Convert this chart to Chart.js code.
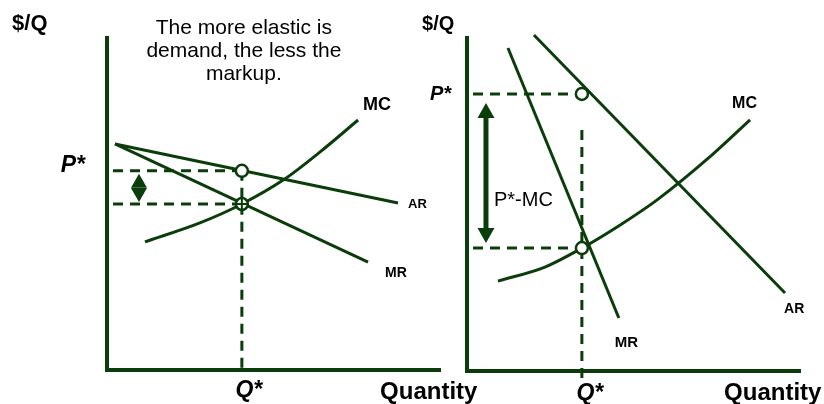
<!DOCTYPE html>
<html>
<head>
<meta charset="utf-8">
<script src="https://cdn.jsdelivr.net/npm/chart.js@4.4.1/dist/chart.umd.min.js"></script>
<style>
  html, body { margin: 0; padding: 0; background: #fff; }
  #wrap { position: relative; width: 824px; height: 404px; }
  canvas { position: absolute; left: 0; top: 0; }
</style>
</head>
<body>
<div id="wrap">
  <canvas id="leftChart" width="824" height="404"></canvas>
  <canvas id="rightChart" width="824" height="404"></canvas>
</div>
<script>
var GREEN = '#0b3d0b';
var FONT = '"Liberation Sans", Arial, sans-serif';

// left panel: elastic demand (Q and $/Q in 0..10 units)
var leftQStar = 4.05, leftPStar = 6.0, leftMcStar = 5.0;
var leftArQ = [0.24, 8.74];
var leftArP = [6.81, 5.03];
var leftMrQ = [0.24, 7.84];
var leftMrP = [6.81, 3.25];
var leftMcQ = [1.14, 2.79, 4.05, 5.29, 6.4, 7.54];
var leftMcP = [3.86, 4.43, 5.0, 5.72, 6.57, 7.53];

// right panel: inelastic demand
var rightQStar = 3.45, rightPStar = 8.32, rightMcStar = 3.69;
var rightArQ = [2.01, 9.55];
var rightArP = [10.09, 2.34];
var rightMrQ = [1.23, 4.56];
var rightMrP = [9.7, 1.59];
var rightMcQ = [0.93, 2.34, 3.45, 4.59, 5.71, 7.36, 8.5];
var rightMcP = [2.7, 3.12, 3.69, 4.38, 5.14, 6.49, 7.54];

var priceTicks = ['P*'];
var qtyTicks = ['Q*'];

function pts(qs, ps) {
    var out = [];
    for (var i = 0; i < qs.length; i++) {
        out.push({ x: qs[i], y: ps[i] });
    }
    return out;
}

function drawArrow(ctx, x, yTop, yBot, a) {
    var mid = (yTop + yBot) / 2;
    var hTop = Math.min(yTop + a.head, mid);
    var hBot = Math.max(yBot - a.head, mid);
    ctx.beginPath();
    ctx.moveTo(x, yTop);
    ctx.lineTo(x + a.half, hTop);
    ctx.lineTo(x - a.half, hTop);
    ctx.closePath();
    ctx.fill();
    ctx.beginPath();
    ctx.moveTo(x, yBot);
    ctx.lineTo(x + a.half, hBot);
    ctx.lineTo(x - a.half, hBot);
    ctx.closePath();
    ctx.fill();
    if (a.shaft && hBot > hTop) {
        ctx.fillRect(x - a.shaft / 2, hTop - 1, a.shaft, hBot - hTop + 2);
    }
}

var notesPlugin = {
    id: 'notes',
    afterDatasetsDraw: function (chart, args, opts) {
        var ctx = chart.ctx;
        var xs = chart.scales.x, ys = chart.scales.y;
        ctx.save();
        if (opts.arrow) {
            var a = opts.arrow;
            ctx.fillStyle = GREEN;
            drawArrow(ctx, xs.getPixelForValue(a.x),
                ys.getPixelForValue(a.to) + a.insetTop,
                ys.getPixelForValue(a.from) - a.insetBottom, a);
        }
        (opts.labels || []).forEach(function (t) {
            ctx.font = t.font + ' ' + FONT;
            ctx.fillStyle = '#000';
            ctx.textAlign = t.align || 'left';
            ctx.textBaseline = 'alphabetic';
            var px = xs.getPixelForValue(t.x), py = ys.getPixelForValue(t.y);
            t.text.split('\n').forEach(function (line, i) {
                ctx.fillText(line, px, py + i * (t.lineHeight || 0));
            });
        });
        ctx.restore();
    }
};

function makeChart(p) {
    var guide = { showLine: true, pointRadius: 0, borderColor: GREEN, borderWidth: 3, borderDash: [10, 7], clip: false };
    var curve = { showLine: true, pointRadius: 0, borderColor: GREEN, borderWidth: 3, clip: false };
    var datasets = [];
    if (p.cross) {
        datasets.push({ data: [{ x: p.q, y: p.mc }], pointStyle: 'cross', pointRadius: 6,
            pointBorderWidth: 2, pointBorderColor: GREEN, clip: false });
    }
    datasets.push({ data: [{ x: p.q, y: p.p }, { x: p.q, y: p.mc }], pointStyle: 'circle', pointRadius: 6,
        pointBorderWidth: 2.5, pointBackgroundColor: '#fff', pointBorderColor: GREEN, clip: false });
    datasets.push(Object.assign({ data: p.ar }, curve));
    datasets.push(Object.assign({ data: p.mr }, curve));
    datasets.push(Object.assign({ data: p.mcCurve, tension: 0.4, cubicInterpolationMode: 'monotone' }, curve));
    datasets.push(Object.assign({ data: [{ x: p.guideStart, y: p.p }, { x: p.q, y: p.p }] }, guide));
    datasets.push(Object.assign({ data: [{ x: p.guideStart, y: p.mc }, { x: p.q, y: p.mc }] }, guide));
    datasets.push(Object.assign({ data: [{ x: p.q, y: p.vTop }, { x: p.q, y: p.vBottom }] }, guide));

    var ctx = document.getElementById(p.canvas).getContext('2d');
    return new Chart(ctx, {
        type: 'scatter',
        data: { datasets: datasets },
        plugins: [notesPlugin],
        options: {
            responsive: false,
            animation: false,
            events: [],
            layout: { padding: { left: 0, bottom: 0, top: p.top, right: p.right } },
            scales: {
                x: {
                    type: 'linear', min: 0, max: 10,
                    afterFit: function (s) { s.height = p.bottomBand; s.paddingLeft = 0; s.paddingRight = 0; },
                    afterBuildTicks: function (s) { s.ticks = [{ value: p.q }]; },
                    ticks: {
                        callback: function (v, i) { return qtyTicks[i]; },
                        font: { family: FONT, size: p.qTickSize, weight: 'bold', style: 'italic' },
                        color: '#000', padding: p.qTickPad, labelOffset: p.qTickShift,
                        maxRotation: 0, autoSkip: false
                    },
                    grid: { display: true, drawOnChartArea: false, drawTicks: false, color: 'rgba(0,0,0,0)' },
                    border: { display: true, color: GREEN, width: 4 }
                },
                y: {
                    type: 'linear', min: 0, max: 10,
                    afterFit: function (s) { s.width = p.leftBand; s.paddingTop = 0; s.paddingBottom = 0; },
                    afterBuildTicks: function (s) { s.ticks = [{ value: p.p }]; },
                    ticks: {
                        callback: function (v, i) { return priceTicks[i]; },
                        font: { family: FONT, size: p.pTickSize, weight: 'bold', style: 'italic' },
                        color: '#000', padding: p.pTickPad, labelOffset: p.pTickShift,
                        autoSkip: false
                    },
                    grid: { display: true, drawOnChartArea: false, drawTicks: false, color: 'rgba(0,0,0,0)' },
                    border: { display: true, color: GREEN, width: 4 }
                }
            },
            plugins: {
                legend: { display: false },
                tooltip: { enabled: false },
                notes: { arrow: p.arrow, labels: p.labels }
            }
        }
    });
}

makeChart({
    canvas: 'leftChart',
    leftBand: 107, bottomBand: 34, top: 38, right: 384,
    q: leftQStar, p: leftPStar, mc: leftMcStar,
    ar: pts(leftArQ, leftArP), mr: pts(leftMrQ, leftMrP), mcCurve: pts(leftMcQ, leftMcP),
    guideStart: 0.18, vTop: leftPStar, vBottom: 0, cross: true,
    pTickSize: 23, pTickPad: 22, pTickShift: -5,
    qTickSize: 23, qTickPad: 7, qTickShift: 7,
    arrow: { x: 0.96, from: leftMcStar, to: leftPStar, insetTop: 3, insetBottom: 2, head: 14, half: 8, shaft: 0 },
    labels: [
        { text: '$/Q', x: -2.85, y: 10.24, font: 'bold 22px' },
        { text: 'The more elastic is\ndemand, the less the\nmarkup.', x: 4.11, y: 10.12, font: '21px', align: 'center', lineHeight: 23 },
        { text: 'MC', x: 7.69, y: 7.83, font: 'bold 18px' },
        { text: 'AR', x: 9.04, y: 4.88, font: 'bold 13px' },
        { text: 'MR', x: 8.35, y: 2.8, font: 'bold 14px' },
        { text: 'Quantity', x: 8.2, y: -0.87, font: 'bold 24px' }
    ]
});

makeChart({
    canvas: 'rightChart',
    leftBand: 467, bottomBand: 33, top: 38, right: 24,
    q: rightQStar, p: rightPStar, mc: rightMcStar,
    ar: pts(rightArQ, rightArP), mr: pts(rightMrQ, rightMrP), mcCurve: pts(rightMcQ, rightMcP),
    guideStart: 0.18, vTop: 7.24, vBottom: -0.33, cross: false,
    pTickSize: 20, pTickPad: 16, pTickShift: 1,
    qTickSize: 23, qTickPad: 9, qTickShift: 8,
    arrow: { x: 0.57, from: rightMcStar, to: rightPStar, insetTop: 9, insetBottom: 5, head: 15, half: 8.5, shaft: 5 },
    labels: [
        { text: '$/Q', x: -1.35, y: 10.24, font: 'bold 20px' },
        { text: 'MC', x: 7.96, y: 7.9, font: 'bold 16px' },
        { text: 'P*-MC', x: 0.81, y: 4.95, font: '20px' },
        { text: 'AR', x: 9.52, y: 1.74, font: 'bold 14px' },
        { text: 'MR', x: 4.44, y: 0.72, font: 'bold 15px' },
        { text: 'Quantity', x: 7.72, y: -0.87, font: 'bold 24px' }
    ]
});
</script>
</body>
</html>
